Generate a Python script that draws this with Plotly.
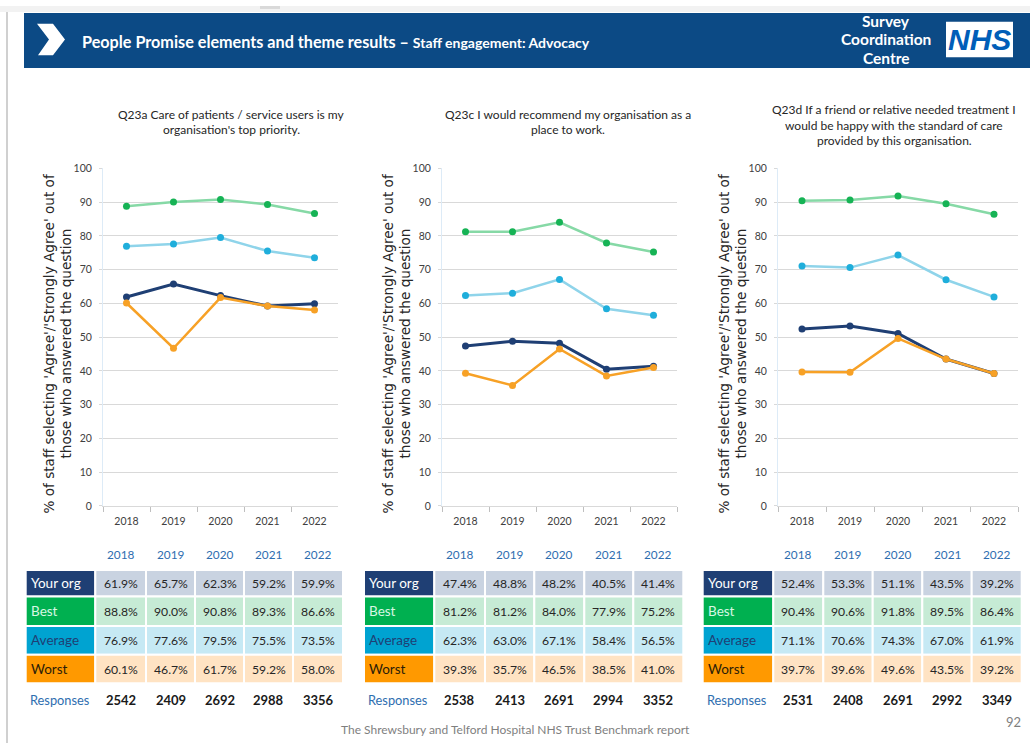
import plotly.graph_objects as go

# ---------------- data ----------------
years = ["2018", "2019", "2020", "2021", "2022"]
series_names = ["Your org", "Best", "Average", "Worst"]

q23a_title = ["Q23a Care of patients / service users is my", "organisation's top priority."]
q23a_your_org = [61.9, 65.7, 62.3, 59.2, 59.9]
q23a_best = [88.8, 90.0, 90.8, 89.3, 86.6]
q23a_average = [76.9, 77.6, 79.5, 75.5, 73.5]
q23a_worst = [60.1, 46.7, 61.7, 59.2, 58.0]
q23a_responses = [2542, 2409, 2692, 2988, 3356]

q23c_title = ["Q23c I would recommend my organisation as a", "place to work."]
q23c_your_org = [47.4, 48.8, 48.2, 40.5, 41.4]
q23c_best = [81.2, 81.2, 84.0, 77.9, 75.2]
q23c_average = [62.3, 63.0, 67.1, 58.4, 56.5]
q23c_worst = [39.3, 35.7, 46.5, 38.5, 41.0]
q23c_responses = [2538, 2413, 2691, 2994, 3352]

q23d_title = ["Q23d If a friend or relative needed treatment I",
              "would be happy with the standard of care",
              "provided by this organisation."]
q23d_your_org = [52.4, 53.3, 51.1, 43.5, 39.2]
q23d_best = [90.4, 90.6, 91.8, 89.5, 86.4]
q23d_average = [71.1, 70.6, 74.3, 67.0, 61.9]
q23d_worst = [39.7, 39.6, 49.6, 43.5, 39.2]
q23d_responses = [2531, 2408, 2691, 2992, 3349]

y_ticks = [0, 10, 20, 30, 40, 50, 60, 70, 80, 90, 100]
y_title = ["% of staff selecting 'Agree'/'Strongly Agree' out of", "those who answered the question"]
header_title = "People Promise elements and theme results – "
header_subtitle = "Staff engagement: Advocacy"
centre_lines = ["Survey", "Coordination", "Centre"]
footer_text = "The Shrewsbury and Telford Hospital NHS Trust Benchmark report"
page_number = "92"

# ---------------- styling / layout ----------------
W, H = 1030, 749
NARROW = "Lato, Liberation Sans Narrow, sans-serif"
AXISFONT = "DejaVu Sans, Verdana, sans-serif"

line_colors = {"Your org": "#1F3F74", "Best": "#86D9A6", "Average": "#8FD4EA", "Worst": "#F7A126"}
marker_colors = {"Your org": "#1F3F74", "Best": "#16B355", "Average": "#1FAEDB", "Worst": "#F7A126"}
label_bg = {"Your org": "#1F3F74", "Best": "#00B050", "Average": "#00A3D1", "Worst": "#FF9900"}
label_fg = {"Your org": "#FFFFFF", "Best": "#D9F7E3", "Average": "#1F3F74", "Worst": "#2B1D08"}
cell_bg = {"Your org": "#C9D3E1", "Best": "#C6EBD5", "Average": "#C6E9F4", "Worst": "#FFE3C3"}
BLUE_TXT = "#2E6EB0"


def px(x):
    return x / W


def py(y):
    return 1 - y / H


charts = [
    dict(title=q23a_title, data=[q23a_your_org, q23a_best, q23a_average, q23a_worst], resp=q23a_responses,
         plot=(103, 338), title_cx=231, title_y0=110,
         label=(25.7, 95.3), cols=[95.3, 146, 195, 244, 293, 343]),
    dict(title=q23c_title, data=[q23c_your_org, q23c_best, q23c_average, q23c_worst], resp=q23c_responses,
         plot=(442, 677), title_cx=568, title_y0=110,
         label=(364, 434.3), cols=[434.3, 485, 534.3, 584.3, 633.3, 683.3]),
    dict(title=q23d_title, data=[q23d_your_org, q23d_best, q23d_average, q23d_worst], resp=q23d_responses,
         plot=(778, 1018), title_cx=894, title_y0=105,
         label=(702.7, 773.3), cols=[773.3, 823.3, 872.7, 922.3, 971.7, 1021.7]),
]
PLOT_TOP, PLOT_BOTTOM = 165, 508
ROWS = [573.3, 600, 630, 659.3, 688.3]
YEAR_ROW_Y = 557
RESP_ROW_Y = 705
TITLE_LINE_GAP = 16

fig = go.Figure()
shapes = []
annotations = []

# page furniture
shapes.append(dict(type="rect", xref="paper", yref="paper", x0=0, x1=1, y0=py(6), y1=1,
                   fillcolor="#F2F2F2", line=dict(width=0), layer="below"))
shapes.append(dict(type="rect", xref="paper", yref="paper", x0=px(260), x1=px(280), y0=py(3), y1=1,
                   fillcolor="#D9D9D9", line=dict(width=0), layer="below"))
shapes.append(dict(type="line", xref="paper", yref="paper", x0=px(7), x1=px(7), y0=0, y1=py(6),
                   line=dict(color="#D0D0D0", width=2), layer="below"))
shapes.append(dict(type="rect", xref="paper", yref="paper", x0=px(24), x1=1, y0=py(63), y1=py(7),
                   fillcolor="#0C4A85", line=dict(width=0), layer="below"))
chev = [(37, 18), (53, 18), (65, 34), (53, 50), (38, 50), (49, 34)]
path = "M " + " L ".join(f"{px(a):.5f},{py(b):.5f}" for a, b in chev) + " Z"
shapes.append(dict(type="path", xref="paper", yref="paper", path=path, fillcolor="#FFFFFF",
                   line=dict(width=0)))
shapes.append(dict(type="rect", xref="paper", yref="paper", x0=px(946), x1=px(1013), y0=py(52), y1=py(16),
                   fillcolor="#FFFFFF", line=dict(width=0)))

annotations.append(dict(xref="paper", yref="paper", x=px(80), y=py(36), xanchor="left", yanchor="middle",
                        showarrow=False,
                        text=f"<b>{header_title}</b><span style='font-size:14px'><b>{header_subtitle}</b></span>",
                        font=dict(family=NARROW, size=16.2, color="#FFFFFF")))
for i, t in enumerate(centre_lines):
    annotations.append(dict(xref="paper", yref="paper", x=px(886), y=py(15 + 19 * i), xanchor="center",
                            yanchor="middle", showarrow=False, text=f"<b>{t}</b>",
                            font=dict(family=NARROW, size=15.5, color="#FFFFFF")))
annotations.append(dict(xref="paper", yref="paper", x=px(979.5), y=py(34), xanchor="center", yanchor="middle",
                        showarrow=False, text="<b><i>NHS</i></b>",
                        font=dict(family="Liberation Sans, Arial, sans-serif", size=30, color="#005EB8")))
annotations.append(dict(xref="paper", yref="paper", x=px(515), y=py(735), xanchor="center", yanchor="middle",
                        showarrow=False, text=footer_text,
                        font=dict(family=NARROW, size=12, color="#7F7F7F")))
annotations.append(dict(xref="paper", yref="paper", x=px(1023), y=py(728), xanchor="right", yanchor="middle",
                        showarrow=False, text=page_number,
                        font=dict(family=NARROW, size=13, color="#7F7F7F")))

layout_axes = {}
for ci, ch in enumerate(charts):
    n = "" if ci == 0 else str(ci + 1)
    xa, ya = "x" + n, "y" + n
    x0p, x1p = ch["plot"]
    layout_axes["xaxis" + n] = dict(
        domain=[px(x0p), px(x1p)], anchor=ya, type="category", range=[-0.5, 4.5],
        tickson="boundaries", ticks="outside", ticklen=5, tickcolor="#BFBFBF", ticklabelstandoff=6,
        showline=True, linecolor="#D9D9D9", linewidth=1, showgrid=False, zeroline=False,
        tickfont=dict(family=NARROW, size=10.5, color="#404040"), fixedrange=True)
    layout_axes["yaxis" + n] = dict(
        domain=[py(PLOT_BOTTOM), py(PLOT_TOP)], anchor=xa, range=[0, 100], tickvals=y_ticks,
        showgrid=True, gridcolor="#D9D9D9", gridwidth=1, zeroline=False, ticklabelstandoff=5,
        showline=True, linecolor="#DDEBF7", linewidth=1, ticks="outside", ticklen=3, tickcolor="#D9D9D9",
        tickfont=dict(family=NARROW, size=10.5, color="#404040"), fixedrange=True)

    for si, name in enumerate(series_names):
        vals = ch["data"][si]
        fig.add_trace(go.Scatter(
            x=years, y=vals, mode="lines+markers", name=name, showlegend=False,
            xaxis=xa, yaxis=ya,
            line=dict(color=line_colors[name], width=3 if name == "Your org" else 2.5),
            marker=dict(color=marker_colors[name], size=7),
            hoverinfo="skip"))

    # chart title
    for li, t in enumerate(ch["title"]):
        annotations.append(dict(xref="paper", yref="paper", x=px(ch["title_cx"]),
                                y=py(ch["title_y0"] + TITLE_LINE_GAP * li), xanchor="center",
                                yanchor="middle", showarrow=False, text=t,
                                font=dict(family=NARROW, size=12, color="#262626")))
    # y axis title (two rotated lines)
    for li, t in enumerate(y_title):
        annotations.append(dict(xref="paper", yref="paper", x=px(x0p - 54 + 17 * li), y=py(343),
                                xanchor="center", yanchor="middle", textangle=-90, showarrow=False,
                                text=t, font=dict(family=AXISFONT, size=13.6, color="#262626")))

    # table
    lx0, lx1 = ch["label"]
    cols = ch["cols"]
    for ci2 in range(5):
        cx = (cols[ci2] + cols[ci2 + 1]) / 2
        annotations.append(dict(xref="paper", yref="paper", x=px(cx), y=py(YEAR_ROW_Y), xanchor="center",
                                yanchor="middle", showarrow=False, text=years[ci2],
                                font=dict(family=NARROW, size=11.8, color=BLUE_TXT)))
    for ri, name in enumerate(series_names):
        ry0, ry1 = ROWS[ri], ROWS[ri + 1]
        shapes.append(dict(type="rect", xref="paper", yref="paper", x0=px(lx0), x1=px(lx1),
                           y0=py(ry1), y1=py(ry0), fillcolor=label_bg[name],
                           line=dict(color="#FFFFFF", width=2)))
        annotations.append(dict(xref="paper", yref="paper", x=px(lx0 + 3), y=py((ry0 + ry1) / 2),
                                xanchor="left", yanchor="middle", showarrow=False, text=name,
                                font=dict(family=NARROW, size=13.5, color=label_fg[name])))
        for ci2 in range(5):
            shapes.append(dict(type="rect", xref="paper", yref="paper", x0=px(cols[ci2]), x1=px(cols[ci2 + 1]),
                               y0=py(ry1), y1=py(ry0), fillcolor=cell_bg[name],
                               line=dict(color="#FFFFFF", width=2)))
            annotations.append(dict(xref="paper", yref="paper", x=px((cols[ci2] + cols[ci2 + 1]) / 2),
                                    y=py((ry0 + ry1) / 2), xanchor="center", yanchor="middle",
                                    showarrow=False, text=f"{ch['data'][ri][ci2]:.1f}%",
                                    font=dict(family=NARROW, size=12.2, color="#262626")))
    annotations.append(dict(xref="paper", yref="paper", x=px(lx0 + 2), y=py(RESP_ROW_Y), xanchor="left",
                            yanchor="middle", showarrow=False, text="Responses",
                            font=dict(family=NARROW, size=12.8, color=BLUE_TXT)))
    for ci2 in range(5):
        annotations.append(dict(xref="paper", yref="paper", x=px((cols[ci2] + cols[ci2 + 1]) / 2),
                                y=py(RESP_ROW_Y), xanchor="center", yanchor="middle", showarrow=False,
                                text=f"<b>{ch['resp'][ci2]}</b>",
                                font=dict(family=NARROW, size=13, color="#1A1A1A")))

fig.update_layout(
    width=W, height=H, margin=dict(l=0, r=0, t=0, b=0),
    paper_bgcolor="#FFFFFF", plot_bgcolor="rgba(0,0,0,0)",
    showlegend=False, shapes=shapes, annotations=annotations, **layout_axes)

fig.write_html("out.html", config={"displayModeBar": False},
               post_script="document.body.style.margin='0';")
